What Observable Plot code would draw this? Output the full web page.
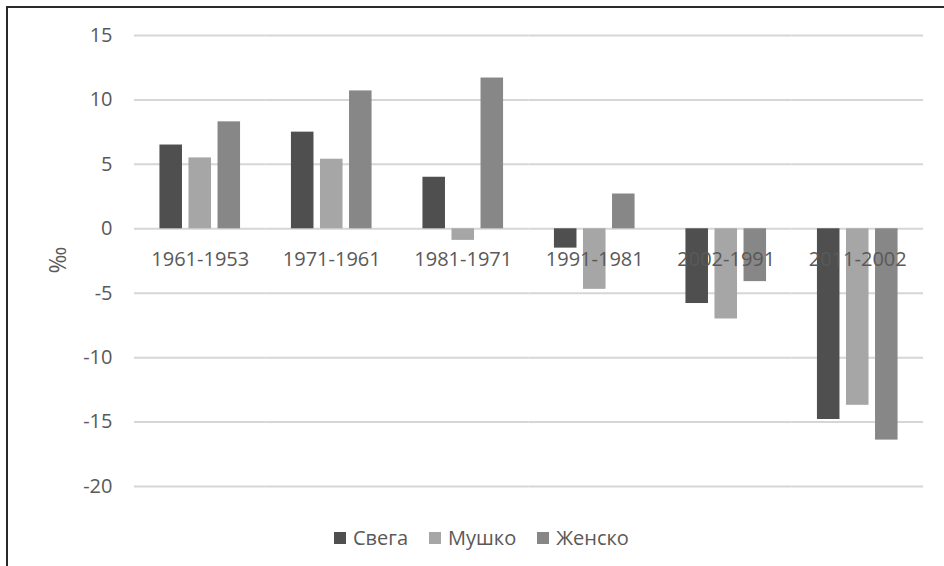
<!DOCTYPE html>
<html>
<head>
<meta charset="utf-8">
<script src="https://cdn.jsdelivr.net/npm/d3@7"></script>
<script src="https://cdn.jsdelivr.net/npm/@observablehq/plot@0.6"></script>
<style>
  html, body { margin: 0; padding: 0; background: #fff; }
  #wrap { position: relative; width: 944px; height: 566px; overflow: hidden; font-family: "Open Sans", sans-serif; }
  #frame { position: absolute; left: 6px; top: 6px; width: 960px; height: 600px; border-top: 2px solid #2a2a2a; border-left: 2px solid #2a2a2a; }
  #plot { position: absolute; left: 0; top: 0; }
  #ylabel { position: absolute; left: 57px; top: 260px; transform: translate(-50%, -50%) rotate(-90deg); font-size: 23px; color: #595959; white-space: nowrap; }
  #legend { position: absolute; left: 334px; top: 524px; display: flex; align-items: center; font-size: 20px; color: #595959; }
  .item { display: flex; align-items: center; margin-right: 21px; }
  .sw { width: 12px; height: 12px; margin-right: 7px; }
</style>
</head>
<body>
<div id="wrap">
  <div id="frame"></div>
  <div id="plot"></div>
  <div id="ylabel">‰</div>
  <div id="legend"></div>
</div>
<script>
const periods = ["1961-1953", "1971-1961", "1981-1971", "1991-1981", "2002-1991", "2011-2002"];
const series = ["Свега", "Мушко", "Женско"];
const colors = ["#4f4f4f", "#a6a6a6", "#878787"];
const svega  = [6.5, 7.5, 4.0, -1.5, -5.8, -14.8];
const mushko = [5.5, 5.4, -0.9, -4.7, -7.0, -13.7];
const zhensko = [8.3, 10.7, 11.7, 2.7, -4.1, -16.4];
const yTicks = [-20, -15, -10, -5, 0, 5, 10, 15];

const seriesValues = [svega, mushko, zhensko];
const data = [];
periods.forEach((p, i) => {
  series.forEach((s, j) => data.push({period: p, series: s, value: seriesValues[j][i]}));
});

const chart = Plot.plot({
  width: 944,
  height: 510,
  marginTop: 35,
  marginBottom: 24,
  marginLeft: 134,
  marginRight: 21,
  style: {fontFamily: "Open Sans, sans-serif", fontSize: "20px", color: "#595959", background: "transparent"},
  fx: {domain: periods, padding: 0, axis: null, round: false},
  x: {domain: series, paddingInner: 0.224, paddingOuter: 0.876, axis: null, round: false},
  y: {domain: [-20, 15], ticks: yTicks, tickSize: 0, tickPadding: 22, label: null, tickFormat: d => String(d)},
  color: {domain: series, range: colors},
  marks: [
    Plot.ruleY(yTicks, {stroke: "#d6d6d6", strokeWidth: 2}),
    Plot.barY(data, {fx: "period", x: "series", y: "value", fill: "series"}),
    Plot.text(periods, {fx: d => d, y: () => 0, text: d => d, dy: 31, fill: "#595959", fontSize: 20}),
    Plot.axisY({ticks: yTicks, tickSize: 0, tickPadding: 22, fill: "#595959", fontSize: 20, label: null, tickFormat: d => String(d)})
  ]
});
document.getElementById("plot").appendChild(chart);

const legend = document.getElementById("legend");
series.forEach((s, i) => {
  const it = document.createElement("div");
  it.className = "item";
  const sw = document.createElement("div");
  sw.className = "sw";
  sw.style.background = colors[i];
  const t = document.createElement("span");
  t.textContent = s;
  it.appendChild(sw);
  it.appendChild(t);
  legend.appendChild(it);
});
</script>
</body>
</html>
